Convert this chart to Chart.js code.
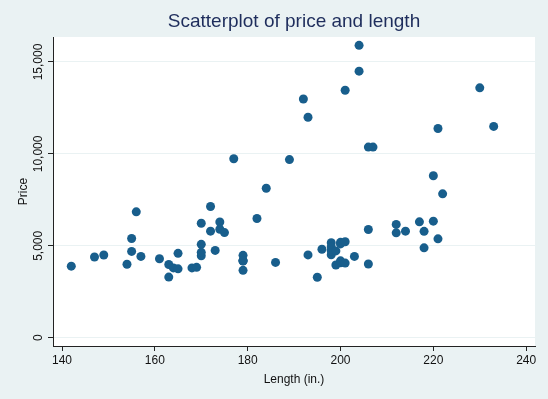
<!DOCTYPE html>
<html>
<head>
<meta charset="utf-8">
<script src="https://cdn.jsdelivr.net/npm/chart.js@4"></script>
<style>
  html, body { margin: 0; padding: 0; background: #EAF2F3; }
  #wrap { width: 548px; height: 399px; }
</style>
</head>
<body>
<div id="wrap"><canvas id="chart" width="548" height="399"></canvas></div>
<script>
'use strict';

// --- DATA (auto dataset: length vs price) ---
const lengths = [186, 173, 168, 196, 222, 218, 170, 200, 207, 200, 221, 204, 204, 163, 212, 193, 200, 179, 199, 163,
    206, 206, 220, 147, 179, 233, 230, 201, 169, 221, 212, 198, 217, 195, 220, 198, 198, 218, 200, 179,
    206, 170, 157, 179, 182, 201, 214, 198, 201, 199, 203, 179, 189, 174, 177, 170, 165, 170, 184, 161,
    172, 149, 154, 192, 142, 164, 174, 165, 175, 172, 155, 155, 156, 193];
const prices = [4099, 4749, 3799, 4816, 7827, 5788, 4453, 5189, 10372, 4082, 11385, 14500, 15906, 3299, 5705, 4504, 5104, 3667, 3955, 3984,
    4010, 5886, 6342, 4389, 4187, 11497, 13594, 13466, 3829, 5379, 6165, 4516, 6303, 3291, 8814, 5172, 4733, 4890, 4181, 4195,
    10371, 4647, 4425, 4482, 6486, 4060, 5798, 4934, 5222, 4723, 4424, 4172, 9690, 6295, 9735, 6229, 4589, 5079, 8129, 4296,
    5799, 4499, 3995, 12990, 3895, 3798, 5899, 3748, 5719, 7140, 5397, 4697, 6850, 11995];
const xTicks = [140, 160, 180, 200, 220, 240];
const yTicks = [0, 5000, 10000, 15000];

const titleText = 'Scatterplot of price and length';
const FONT = '"Liberation Sans", Arial, sans-serif';

// white plot region behind the marks
const plotBackground = {
    id: 'plotBackground',
    beforeDraw(chart) {
        const { ctx, chartArea: a } = chart;
        ctx.save();
        ctx.fillStyle = '#FFFFFF';
        ctx.fillRect(a.left, a.top, a.right - a.left, a.bottom - a.top);
        ctx.restore();
    }
};

// draws the title over the plot region and the vertical y tick labels
const stataDecor = {
    id: 'stataDecor',
    afterDraw(chart) {
        const { ctx, chartArea, scales } = chart;
        ctx.save();
        ctx.fillStyle = '#1E2D5C';
        ctx.font = `19px ${FONT}`;
        ctx.textAlign = 'center';
        ctx.textBaseline = 'middle';
        ctx.fillText(titleText, (chartArea.left + chartArea.right) / 2, 22);

        ctx.fillStyle = '#111';
        ctx.font = `12px ${FONT}`;
        yTicks.forEach(v => {
            const y = scales.y.getPixelForValue(v);
            ctx.save();
            ctx.translate(39, y);
            ctx.rotate(-Math.PI / 2);
            ctx.fillText(v.toLocaleString('en-US'), 0, 0);
            ctx.restore();
        });
        ctx.restore();
    }
};

const points = lengths.map((l, i) => ({ x: l, y: prices[i] }));

new Chart(document.getElementById('chart'), {
    type: 'scatter',
    data: {
        datasets: [{
            data: points,
            backgroundColor: '#185E8C',
            borderColor: '#185E8C',
            pointRadius: 4.5,
            pointHoverRadius: 4.5,
            borderWidth: 0
        }]
    },
    options: {
        responsive: false,
        animation: false,
        events: [],
        layout: { padding: { top: 37, right: 13, left: 16, bottom: 12 } },
        plugins: { legend: { display: false }, tooltip: { enabled: false }, title: { display: false } },
        scales: {
            x: {
                type: 'linear',
                min: 138.06,
                max: 241.9,
                afterBuildTicks: s => { s.ticks = xTicks.map(v => ({ value: v })); },
                afterFit: s => { s.height = 41; },
                grid: { drawOnChartArea: false, tickColor: '#222', tickLength: 5 },
                border: { color: '#222', width: 1 },
                ticks: { color: '#111', font: { family: FONT, size: 12 }, padding: 2, maxRotation: 0 },
                title: { display: true, text: 'Length (in.)', color: '#111', font: { family: FONT, size: 12 }, padding: { top: 2, bottom: 0 } }
            },
            y: {
                type: 'linear',
                min: -450,
                max: 16360,
                afterBuildTicks: s => { s.ticks = yTicks.map(v => ({ value: v })); },
                afterFit: s => { s.width = 37; },
                grid: { color: '#EAF2F3', lineWidth: 1, tickColor: '#222', tickLength: 5 },
                border: { color: '#222', width: 1 },
                ticks: { display: false },
                title: { display: true, text: 'Price', color: '#111', font: { family: FONT, size: 12 }, padding: { top: 0, bottom: 0 } }
            }
        }
    },
    plugins: [plotBackground, stataDecor]
});
</script>
</body>
</html>
